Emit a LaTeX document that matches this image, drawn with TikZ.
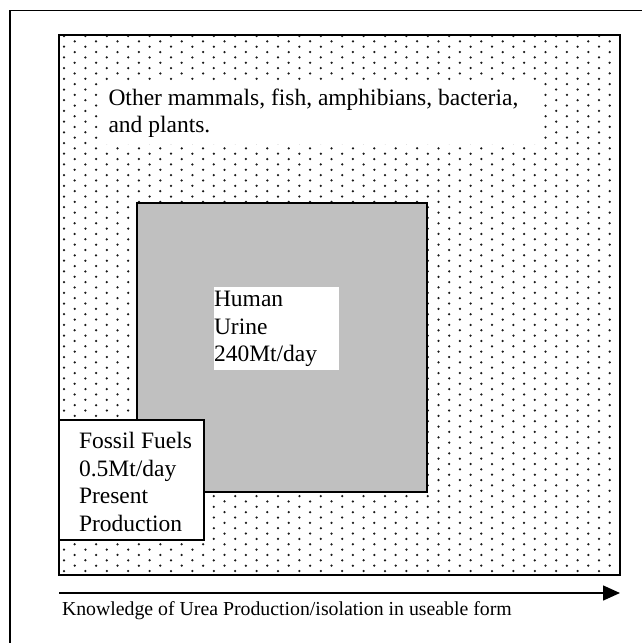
\documentclass[tikz,border=0pt]{standalone}
\usepackage{fontspec}
\setmainfont{Liberation Serif}
\usetikzlibrary{arrows.meta}
\begin{document}
\begin{tikzpicture}[x=1pt,y=-1pt,
  frame/.style={draw=black,line width=1.3pt},
  dotc/.style={fill=black!90},
  boxnode/.style={draw=none,inner sep=0pt,outer sep=0pt,anchor=north west},
  txt/.style={inner sep=0pt,outer sep=0pt,anchor=north west,align=left,font=\fontsize{23.5}{27.5}\selectfont},
  smalltxt/.style={inner sep=0pt,outer sep=0pt,anchor=base west,font=\fontsize{19.8}{24}\selectfont}
]
\useasboundingbox (0,0) rectangle (641,643);
% outer frame
\draw[frame] (10,10.5) rectangle (648,650);
% dotted region
\node[boxnode,fill=white,minimum width=561pt,minimum height=540pt] (world) at (59,35) {};
\begin{scope}
  \clip (60,36) rectangle (619,574);
  \foreach \i in {0,...,53}{
    \pgfmathsetmacro{\xx}{64+10.7*\i}
    \pgfmathsetmacro{\yo}{mod(\i,2)==0 ? 36 : 41.35}
    \foreach \j in {0,...,51}{
      \fill[dotc] (\xx,\yo+10.7*\j) circle (1.25);
    }
  }
\end{scope}
\draw[frame] (world.north west) rectangle (world.south east);
% white text field
\node[boxnode,fill=white,minimum width=436pt,minimum height=63pt] (otherbox) at (105,81) {};
\node[txt] (other) at (108.5,88.5) {Other mammals, fish, amphibians, bacteria,\\and plants.};
% gray human region
\node[boxnode,fill={rgb,255:red,192;green,192;blue,192},draw=black,line width=1.3pt,minimum width=290pt,minimum height=289pt] (human) at (137,203) {};
\node[boxnode,fill=white,minimum width=125pt,minimum height=83pt] (urinebox) at (214,287) {};
\node[txt] (urine) at (214,291.5) {Human\\Urine\\240Mt/day};
% fossil box
\node[boxnode,fill=white,draw=black,line width=1.3pt,minimum width=145pt,minimum height=120pt] (fossil) at (59,420) {};
\node[txt] (fossiltxt) at (79,432.5) {Fossil Fuels\\0.5Mt/day\\Present\\Production};
% arrow
\coordinate (arrL) at (59,593);
\coordinate (arrR) at (620,593);
\draw[line width=1.5pt,-{Triangle[length=17pt,width=15pt]}] (arrL) -- (arrR);
\node[smalltxt] (know) at (62,615) {Knowledge of Urea Production/isolation in useable form};
\end{tikzpicture}
\end{document}
